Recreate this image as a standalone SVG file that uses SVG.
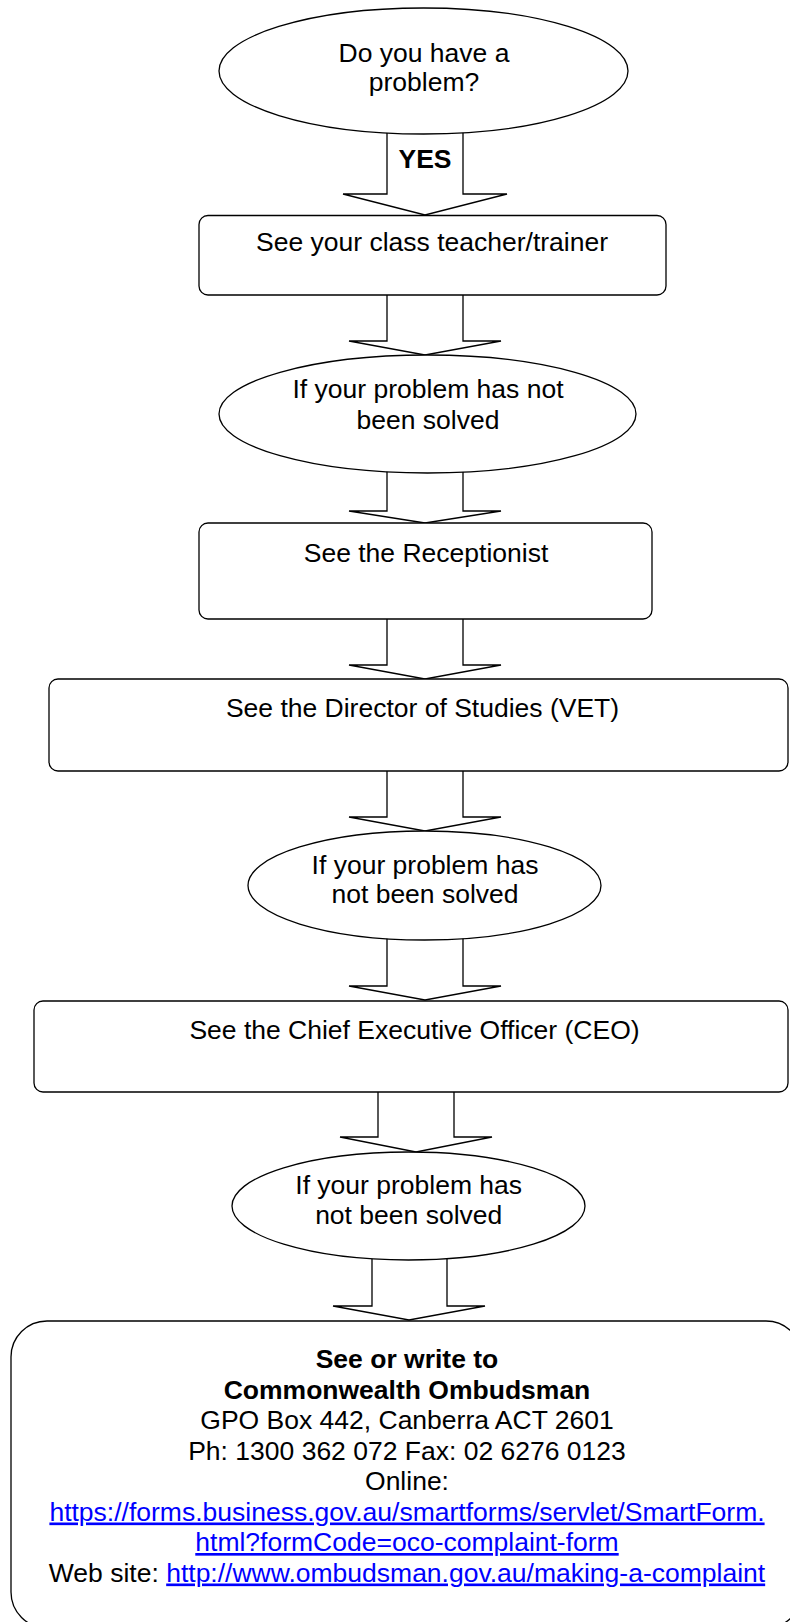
<svg xmlns="http://www.w3.org/2000/svg" width="790" height="1622" viewBox="0 0 790 1622">
<style>
.n{fill:#fff;stroke:#000;stroke-width:1.3}
.c{fill:none;stroke:#000;stroke-width:1.3;stroke-linejoin:miter}
text{font-family:"Liberation Sans",Arial,sans-serif;font-size:26.5px;fill:#000;text-anchor:middle}
.b{font-weight:bold}
.lk{fill:#0000ff;text-decoration:underline}
</style>
<rect width="790" height="1622" fill="#fff"/>
<g id="connectors">
<path class="c" d="M387,131 V194 H343 L425,215 L507,194 H463 V131"/>
<path class="c" d="M387,292 V341 H349 L425,355 L501,341 H463 V292"/>
<path class="c" d="M387,470 V511 H349 L425,523 L501,511 H463 V470"/>
<path class="c" d="M387,616 V665 H349 L425,679 L501,665 H463 V616"/>
<path class="c" d="M387,768 V817 H349 L425,831 L501,817 H463 V768"/>
<path class="c" d="M387,936 V986 H349 L425,1000 L501,986 H463 V936"/>
<path class="c" d="M378,1089 V1137 H340 L416,1152 L492,1137 H454 V1089"/>
<path class="c" d="M372,1256 V1306 H333 L409,1320 L485,1306 H447 V1256"/>
<text class="b" x="425" y="168">YES</text>
</g>
<g id="start">
<ellipse class="n" cx="423.5" cy="71" rx="204.5" ry="63"/>
<text x="424" y="62">Do you have a</text>
<text x="424" y="91">problem?</text>
</g>
<g id="teacher">
<rect class="n" x="199" y="215.5" width="467" height="79.5" rx="9"/>
<text x="432" y="251">See your class teacher/trainer</text>
</g>
<g id="notsolved1">
<ellipse class="n" cx="427.5" cy="414" rx="208.5" ry="59"/>
<text x="428" y="398">If your problem has not</text>
<text x="428" y="428.5">been solved</text>
</g>
<g id="receptionist">
<rect class="n" x="199" y="523" width="453" height="96" rx="9"/>
<text x="426" y="562">See the Receptionist</text>
</g>
<g id="director">
<rect class="n" x="49" y="679" width="739" height="92" rx="9"/>
<text x="422.5" y="717">See the Director of Studies (VET)</text>
</g>
<g id="notsolved2">
<ellipse class="n" cx="424.5" cy="885.5" rx="176.5" ry="54.5"/>
<text x="425" y="874">If your problem has</text>
<text x="425" y="903">not been solved</text>
</g>
<g id="ceo">
<rect class="n" x="34" y="1001" width="754" height="91" rx="9"/>
<text x="414.5" y="1039">See the Chief Executive Officer (CEO)</text>
</g>
<g id="notsolved3">
<ellipse class="n" cx="408.5" cy="1206" rx="176.5" ry="54"/>
<text x="408.7" y="1194">If your problem has</text>
<text x="408.7" y="1224">not been solved</text>
</g>
<g id="ombudsman">
<rect class="n" x="11" y="1321" width="791" height="307" rx="36"/>
<text class="b" x="407" y="1368">See or write to</text>
<text class="b" x="407" y="1398.5">Commonwealth Ombudsman</text>
<text x="407" y="1429">GPO Box 442, Canberra ACT 2601</text>
<text x="407" y="1459.5">Ph: 1300 362 072 Fax: 02 6276 0123</text>
<text x="407" y="1490">Online:</text>
<text class="lk" x="407" y="1520.5">https://forms.business.gov.au/smartforms/servlet/SmartForm.</text>
<text class="lk" x="407" y="1551">html?formCode=oco-complaint-form</text>
<text x="407" y="1581.5">Web site: <tspan class="lk">http://www.ombudsman.gov.au/making-a-complaint</tspan></text>
</g>
</svg>
